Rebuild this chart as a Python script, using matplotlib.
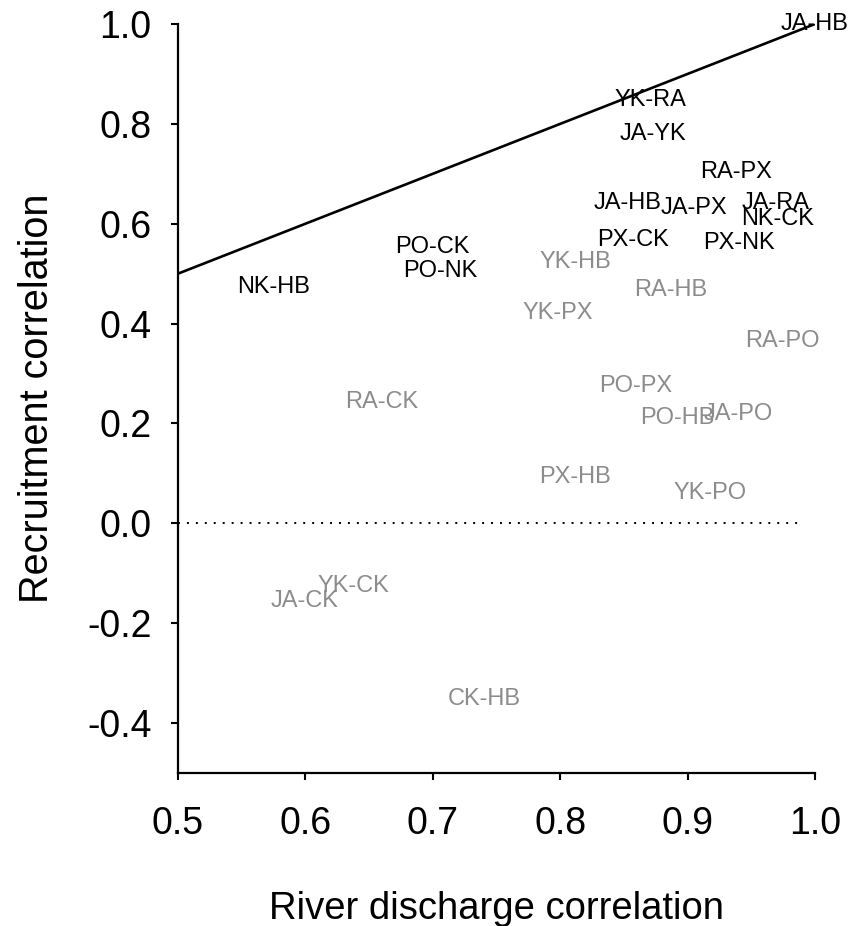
import matplotlib
matplotlib.use("Agg")
import matplotlib.pyplot as plt

plt.rcParams['font.family'] = ['Liberation Sans', 'DejaVu Sans']
plt.rcParams['axes.unicode_minus'] = False

# Pairs above/near the 1:1 line (black labels)
black_labels = ["JA-HB", "YK-RA", "JA-YK", "RA-PX", "JA-HB", "JA-PX", "JA-RA",
                "NK-CK", "PX-CK", "PX-NK", "PO-CK", "PO-NK", "NK-HB"]
black_x = [1.000, 0.871, 0.873, 0.938, 0.853, 0.905, 0.969, 0.971, 0.857, 0.940,
           0.700, 0.706, 0.575]
black_y = [1.000, 0.848, 0.780, 0.703, 0.641, 0.631, 0.641, 0.609, 0.567, 0.561,
           0.553, 0.505, 0.473]

# Remaining pairs (grey labels)
grey_labels = ["YK-HB", "RA-HB", "YK-PX", "RA-PO", "RA-CK", "PO-PX", "PO-HB",
               "JA-PO", "PX-HB", "YK-PO", "YK-CK", "JA-CK", "CK-HB"]
grey_x = [0.812, 0.887, 0.798, 0.974, 0.660, 0.859, 0.892, 0.940, 0.812, 0.918,
          0.638, 0.599, 0.740]
grey_y = [0.524, 0.467, 0.421, 0.365, 0.242, 0.275, 0.210, 0.219, 0.093, 0.061,
          -0.125, -0.155, -0.351]

line_x = [0.5, 1.0]
line_y = [0.5, 1.0]
zero_x = [0.5, 0.99]
zero_y = [0.0, 0.0]

xticks = [0.5, 0.6, 0.7, 0.8, 0.9, 1.0]
yticks = [-0.4, -0.2, 0.0, 0.2, 0.4, 0.6, 0.8, 1.0]

fig = plt.figure(figsize=(8.49, 9.26), dpi=100)
ax = fig.add_axes([178/849, 1-773/926, (815-178)/849, (773-24)/926])

ax.plot(line_x, line_y, color='black', lw=1.9, solid_capstyle='butt')
ax.plot(zero_x, zero_y, color='black', lw=1.4, linestyle=(0, (1, 3.6)))

for lab, x, y in zip(black_labels, black_x, black_y):
    ax.text(x, y, lab, ha='center', va='center', fontsize=17, color='black',
            clip_on=False)
for lab, x, y in zip(grey_labels, grey_x, grey_y):
    ax.text(x, y, lab, ha='center', va='center', fontsize=17, color='#8c8c8c',
            clip_on=False)

ax.set_xlim(0.5, 1.0)
ax.set_ylim(-0.5, 1.0)
ax.set_xticks(xticks)
ax.set_xticklabels([f"{v:.1f}" for v in xticks])
ax.set_yticks(yticks)
ax.set_yticklabels([f"{v:.1f}" for v in yticks])

for s in ['top', 'right']:
    ax.spines[s].set_visible(False)
for s in ['left', 'bottom']:
    ax.spines[s].set_linewidth(1.6)

ax.tick_params(axis='both', direction='out', length=5, width=1.5, labelsize=27)
ax.tick_params(axis='x', pad=19)
ax.tick_params(axis='y', pad=14)

ax.set_xlabel("River discharge correlation", fontsize=27.5)
ax.xaxis.label.set_va('baseline')
ax.xaxis.set_label_coords(0.5, (773 - 919) / 749)
ax.set_ylabel("Recruitment correlation", fontsize=28.5)
ax.yaxis.set_label_coords((56 - 178) / 637, 0.5)

fig.savefig("out.png", dpi=100)
